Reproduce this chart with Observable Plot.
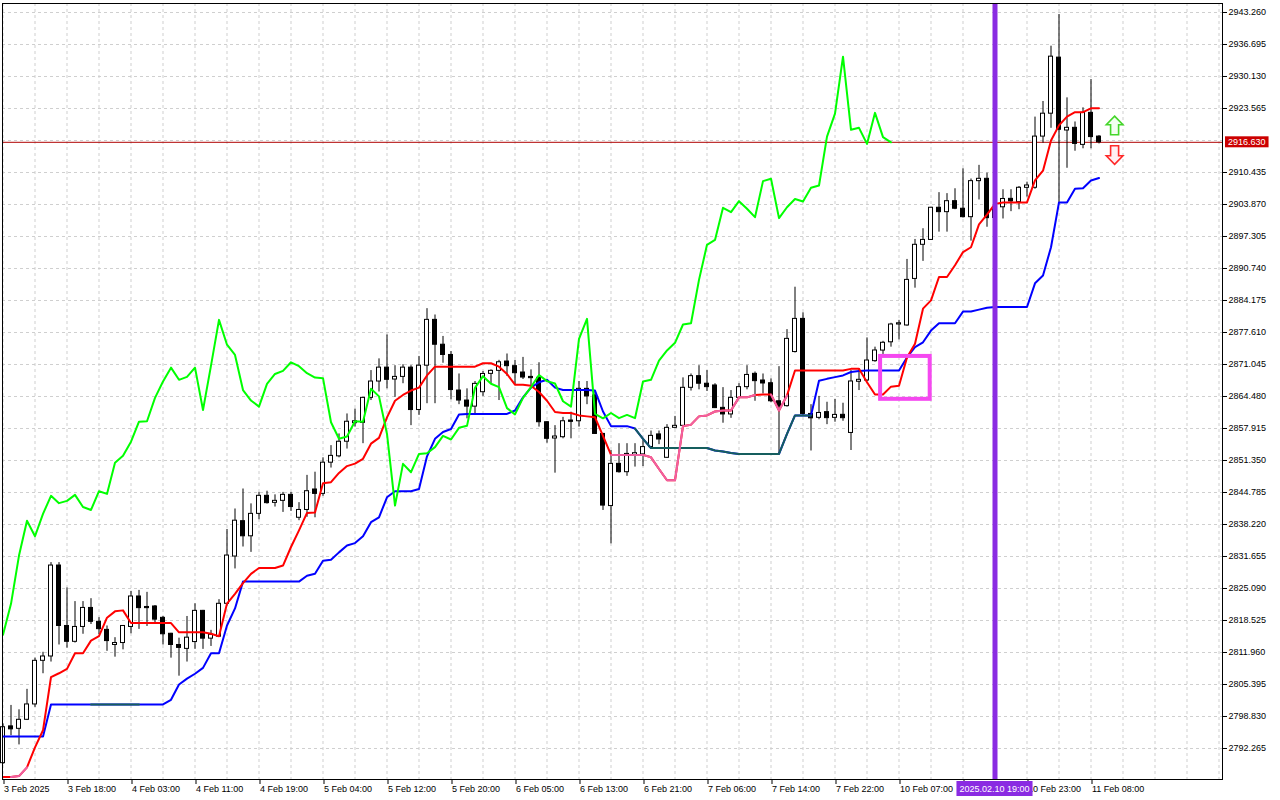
<!DOCTYPE html>
<html><head><meta charset="utf-8">
<script src="https://cdn.jsdelivr.net/npm/d3@7"></script>
<script src="https://cdn.jsdelivr.net/npm/@observablehq/plot@0.6"></script>
<style>html,body{margin:0;padding:0;background:#fff;}svg{display:block}</style>
</head><body><div id="chart"></div>
<script>
// ---- data (H1 bars, index 0 = 3 Feb 2025) ----
const open = [
2789.25,2796.8,2796.3,2798.15,2801.3,2810.25,2811.14,2829.8,2817.4,2814.15,
2817.2,2821.1,2818.25,2816.6,2813.5,2813.9,2817.2,2823.45,2821.3,2821.4,
2819.07,2815.8,2813.5,2812.7,2814.1,2820.5,2814.8,2815.2,2821.95,2831.65,
2838.9,2835.8,2840.4,2844.1,2842.66,2843.07,2844.3,2839.6,2841.2,2845.4,
2844.5,2850.9,2852.2,2855.2,2859.0,2859.07,2864.2,2867.55,2870.4,2867.96,
2868.5,2870.4,2861.7,2870.8,2880.2,2875.1,2873.0,2865.7,2863.65,2862.4,
2865.36,2869.12,2869.74,2871.65,2870.7,2869.4,2868.5,2868.3,2859.2,2855.86,
2856.13,2859.55,2859.4,2866.05,2864.7,2856.8,2842.0,2850.66,2848.95,2852.5,
2852.6,2854.1,2856.7,2851.9,2858.05,2858.46,2866.26,2868.65,2867.1,2866.74,
2862.15,2860.8,2864.2,2866.4,2869.13,2867.76,2867.2,2863.5,2862.5,2873.6,
2880.4,2860.9,2860.1,2861.27,2860.1,2860.72,2857.0,2867.5,2867.76,2871.73,
2873.9,2875.6,2879.25,2879.05,2888.6,2895.6,2896.6,2903.2,2902.3,2904.55,
2903.0,2901.27,2908.66,2909.14,2901.1,2903.3,2905.03,2904.35,2907.29,2907.3,
2917.8,2922.5,2934.0,2919.05,2919.6,2916.1,2922.67,2917.8];
const high = [
2797.3,2801.1,2800.2,2804.4,2810.8,2812.0,2830.4,2830.4,2825.2,2822.4,
2822.4,2823.0,2819.1,2817.4,2815.0,2817.5,2824.5,2824.7,2824.3,2821.6,
2819.35,2815.9,2814.9,2819.35,2821.95,2820.6,2816.5,2822.8,2837.2,2841.4,
2845.5,2842.45,2844.8,2845.05,2844.3,2844.8,2844.8,2842.7,2848.3,2848.95,
2851.9,2854.4,2856.8,2860.9,2861.9,2864.3,2869.8,2872.2,2877.1,2870.8,
2871.0,2870.8,2872.7,2882.5,2881.2,2876.8,2873.7,2869.1,2866.05,2867.55,
2869.6,2869.94,2871.9,2873.2,2871.86,2872.5,2869.94,2871.4,2859.3,2858.5,
2860.2,2861.26,2867.55,2867.55,2865.6,2856.9,2853.4,2854.8,2854.8,2854.8,
2855.45,2857.4,2857.4,2858.7,2860.4,2868.3,2869.1,2870.8,2869.8,2867.1,
2866.3,2865.7,2867.1,2870.8,2869.5,2869.1,2868.1,2870.6,2878.2,2886.9,
2881.65,2862.8,2864.5,2863.3,2863.9,2863.1,2869.8,2870.15,2876.5,2874.6,
2875.8,2879.5,2880.1,2892.6,2896.7,2898.9,2903.3,2906.3,2906.1,2907.1,
2911.2,2909.1,2911.9,2910.3,2904.5,2906.9,2906.9,2907.56,2908.45,2921.8,
2925.0,2936.35,2942.85,2925.75,2920.8,2923.7,2929.5,2918.0];
const low = [
2789.0,2794.9,2793.0,2798.0,2800.7,2807.6,2810.0,2813.5,2812.85,2813.9,
2815.7,2817.7,2815.65,2812.2,2811.0,2812.5,2815.8,2816.7,2817.3,2818.05,
2813.5,2810.8,2807.1,2810.0,2812.6,2812.6,2813.2,2815.1,2821.5,2829.1,
2833.6,2832.5,2839.2,2842.4,2841.8,2840.7,2840.9,2839.0,2839.7,2839.6,
2844.0,2849.8,2851.9,2853.7,2858.2,2854.8,2863.65,2865.4,2866.05,2864.3,
2867.1,2858.5,2860.6,2863.0,2863.0,2871.3,2863.8,2862.8,2859.9,2860.9,
2864.5,2867.07,2863.65,2868.6,2866.7,2867.96,2866.6,2858.2,2854.9,2848.75,
2855.8,2855.8,2858.2,2862.8,2856.7,2841.1,2834.25,2848.75,2848.1,2850.0,
2850.1,2853.7,2854.6,2851.8,2858.0,2858.3,2865.6,2865.85,2865.5,2862.0,
2859.0,2860.0,2864.07,2865.85,2863.5,2865.0,2863.2,2852.7,2862.3,2873.4,
2860.5,2853.3,2859.7,2858.7,2859.2,2859.4,2853.4,2865.7,2867.5,2871.5,
2873.1,2874.6,2876.1,2878.9,2886.7,2892.2,2896.5,2898.2,2898.2,2902.8,
2901.1,2896.35,2904.8,2899.2,2898.5,2900.9,2902.4,2902.8,2905.4,2907.0,
2916.45,2919.5,2904.3,2911.3,2914.8,2915.3,2915.3,2916.3];
const close = [
2796.63,2796.2,2798.15,2801.3,2810.25,2811.14,2829.8,2817.4,2814.15,2817.2,
2821.1,2818.25,2816.75,2814.3,2813.9,2817.4,2823.45,2821.06,2821.06,2818.7,
2815.7,2813.5,2812.9,2815.0,2820.5,2814.8,2815.6,2821.95,2831.85,2839.0,
2835.8,2840.4,2844.1,2842.6,2843.07,2844.3,2841.8,2841.2,2845.05,2844.5,
2850.9,2852.3,2855.2,2859.3,2859.4,2864.2,2867.55,2870.4,2867.9,2868.5,
2870.4,2861.7,2870.8,2880.2,2875.1,2873.0,2865.8,2863.65,2862.4,2867.07,
2869.1,2869.74,2871.5,2870.7,2869.26,2868.37,2868.24,2859.2,2855.8,2856.27,
2859.4,2859.28,2866.05,2864.5,2856.8,2842.1,2850.66,2848.95,2852.7,2852.85,
2854.1,2856.4,2855.66,2858.05,2858.46,2866.26,2868.65,2867.1,2866.4,2862.1,
2860.8,2864.2,2866.4,2868.9,2867.63,2867.15,2863.5,2862.4,2876.3,2880.4,
2860.9,2860.0,2861.1,2860.04,2860.7,2860.03,2867.56,2867.9,2871.86,2873.92,
2875.5,2879.25,2879.5,2888.4,2895.6,2896.6,2903.2,2902.3,2904.55,2903.0,
2901.27,2908.66,2909.14,2901.07,2903.3,2905.0,2904.5,2907.3,2907.77,2917.8,
2922.5,2934.2,2919.2,2919.6,2916.3,2922.67,2917.7,2916.63];
const tenkan = [
2786.4,2786.4,2786.6,2788.4,2792.5,2796.0,2806.9,2807.7,2808.6,2811.8,
2811.8,2814.4,2815.3,2819.1,2820.4,2820.6,2818.0,2818.0,2818.0,2818.0,
2818.0,2818.0,2816.1,2816.1,2816.1,2816.1,2815.8,2815.3,2822.0,2824.0,
2826.2,2828.1,2829.3,2829.3,2829.3,2829.8,2833.6,2837.0,2840.6,2840.7,
2846.7,2846.9,2848.8,2850.2,2850.7,2851.7,2854.8,2856.0,2860.2,2863.6,
2864.8,2865.7,2866.3,2868.8,2870.6,2870.6,2870.6,2870.6,2870.6,2870.6,
2871.3,2871.3,2870.6,2869.1,2866.9,2866.9,2866.7,2865.4,2863.6,2861.3,
2861.1,2861.1,2860.6,2860.4,2860.2,2856.4,2852.5,2852.5,2852.5,2852.5,
2852.5,2852.0,2849.6,2847.3,2847.3,2858.4,2858.7,2860.4,2860.6,2861.4,
2861.6,2861.6,2864.3,2864.3,2864.8,2864.9,2864.9,2861.6,2864.7,2869.8,
2869.8,2869.8,2869.8,2869.8,2869.8,2869.8,2870.15,2870.15,2867.4,2864.9,
2864.9,2866.5,2866.7,2872.5,2875.3,2882.5,2884.2,2889.0,2889.0,2891.4,
2894.1,2895.1,2899.8,2901.8,2904.0,2904.3,2904.3,2904.3,2904.3,2908.8,
2910.8,2917.0,2920.1,2921.9,2922.8,2922.8,2923.6,2923.6];
const kijun = [
2794.7,2794.7,2794.7,2794.7,2794.7,2794.7,2801.3,2801.3,2801.3,2801.3,
2801.3,2801.3,2801.3,2801.3,2801.3,2801.3,2801.3,2801.3,2801.3,2801.3,
2801.3,2802.25,2805.4,2806.6,2807.6,2808.8,2811.8,2811.8,2817.5,2821.0,
2826.5,2826.5,2826.5,2826.5,2826.5,2826.5,2826.5,2826.5,2827.7,2828.1,
2830.8,2831.0,2832.5,2833.9,2834.4,2835.8,2838.7,2839.7,2843.8,2845.05,
2845.05,2845.05,2845.5,2852.2,2855.8,2857.2,2857.8,2860.8,2860.9,2860.9,
2860.9,2860.9,2860.9,2860.9,2861.6,2864.3,2866.3,2867.4,2867.9,2866.3,
2865.8,2865.8,2865.8,2865.8,2865.7,2861.4,2858.4,2858.4,2858.4,2857.9,
2855.8,2853.9,2853.9,2853.9,2853.9,2853.9,2853.9,2853.9,2853.9,2853.4,
2853.2,2852.9,2852.7,2852.7,2852.7,2852.7,2852.7,2852.7,2856.8,2860.6,
2860.6,2860.6,2867.7,2868.1,2868.45,2868.8,2869.5,2869.7,2869.8,2869.8,
2869.8,2869.8,2869.8,2872.5,2874.6,2875.6,2878.0,2879.5,2879.5,2879.5,
2881.9,2881.9,2882.3,2882.7,2882.85,2882.85,2882.85,2882.85,2882.85,2887.7,
2889.3,2895.1,2904.3,2904.3,2907.1,2907.2,2908.8,2909.3];
const chikouShift = 26;                      // chikou span = close plotted 26 bars back
const pinkRuns = [[1,3],[76,94],[96,98]];    // tenkan segments drawn pink
const tealRuns = [[11,17],[79,101]];         // kijun segments drawn teal
const priceTicks = [2792.265,2798.830,2805.395,2811.960,2818.525,2825.090,2831.655,2838.220,
  2844.785,2851.350,2857.915,2864.480,2871.045,2877.610,2884.175,2890.740,2897.305,2903.870,
  2910.435,2917.000,2923.565,2930.130,2936.695,2943.260];
const hiddenPriceTick = 2917.000;            // covered by the current-price tag
const tickBars = [0,8,16,24,32,40,48,56,64,72,80,88,96,104,112,120,128,136];
const timeLabels = ["3 Feb 2025","3 Feb 18:00","4 Feb 03:00","4 Feb 11:00","4 Feb 19:00",
  "5 Feb 04:00","5 Feb 12:00","5 Feb 20:00","6 Feb 05:00","6 Feb 13:00","6 Feb 21:00",
  "7 Feb 06:00","7 Feb 14:00","7 Feb 22:00","10 Feb 07:00","10 Feb 15:00","10 Feb 23:00","11 Feb 08:00"];
const coveredTickBars = [120];               // label hidden under the time-marker tag
const gridBars = d3.range(0, 153, 4);
const currentPrice = 2916.63;
const markerBar = 124;
const markerLabel = "2025.02.10 19:00";
const boxBars = [109.7, 115.9];
const boxPrices = [2863.9, 2872.7];
const arrowBar = 138.95;
const arrowUpPrice = 2920.1;
const arrowDownPrice = 2914.0;

// ---- build ----
const bars = open.map((o, i) => ({i, open:o, high:high[i], low:low[i], close:close[i], tenkan:tenkan[i], kijun:kijun[i]}));
const bull = bars.filter(d => d.close >= d.open);
const bear = bars.filter(d => d.close < d.open);
const chikou = close.slice(chikouShift).map((v, i) => ({i, v}));
const runPts = (runs, key) => runs.flatMap(([a, b], r) => bars.slice(a, b + 1).map(d => ({i:d.i, v:d[key], run:r})));

// hollow block-arrow symbols
function arrowSymbol(dir) {
  return {draw(ctx, size) {
    const k = Math.sqrt(size / Math.PI) / 9;
    const pts = [[0,-9.3],[8.3,-0.7],[4,-0.7],[4,9.3],[-4,9.3],[-4,-0.7],[-8.3,-0.7]];
    pts.forEach(([px, py], j) => { const X = px * k, Y = dir * py * k; j ? ctx.lineTo(X, Y) : ctx.moveTo(X, Y); });
    ctx.closePath();
  }};
}

const W = 1280, H = 800, mL = 2, mR = 58, mT = 3, mB = 21;
const font = "'Liberation Sans', Arial, sans-serif";

const chart = Plot.plot({
  width: W, height: H, marginLeft: mL, marginRight: mR, marginTop: mT, marginBottom: mB,
  style: {fontFamily: font, fontSize: "9px", background: "#fff", color: "#000", overflow: "visible"},
  x: {type: "linear", domain: [-0.0625, 152.4375], label: null},
  y: {type: "linear", domain: [2785.903, 2945.106], label: null},
  marks: [
    Plot.gridX({ticks: gridBars, stroke: "#cfcfcf", strokeOpacity: 1, strokeDasharray: "3,3"}),
    Plot.gridY({ticks: priceTicks, stroke: "#cfcfcf", strokeOpacity: 1, strokeDasharray: "3,3"}),
    Plot.ruleY([currentPrice], {stroke: "#b00000", strokeWidth: 1}),
    Plot.ruleX(bars, {x: "i", y1: "low", y2: "high", stroke: "#000", strokeWidth: 1}),
    Plot.rect(bear, {x1: d => d.i - 0.25, x2: d => d.i + 0.25, y1: "open", y2: "close", fill: "#000", stroke: "#000", strokeWidth: 1}),
    Plot.rect(bull, {x1: d => d.i - 0.25, x2: d => d.i + 0.25, y1: "open", y2: "close", fill: "#fff", stroke: "#000", strokeWidth: 1}),
    Plot.line(bars, {x: "i", y: "kijun", stroke: "#0000ff", strokeWidth: 2}),
    Plot.line(bars, {x: "i", y: "tenkan", stroke: "#ff0000", strokeWidth: 2}),
    Plot.line(runPts(tealRuns, "kijun"), {x: "i", y: "v", z: "run", stroke: "#155e5e", strokeWidth: 2}),
    Plot.line(runPts(pinkRuns, "tenkan"), {x: "i", y: "v", z: "run", stroke: "#f060a2", strokeWidth: 2}),
    Plot.line(chikou, {x: "i", y: "v", stroke: "#00ff00", strokeWidth: 2}),
    Plot.rect([{a: boxBars[0], b: boxBars[1], lo: boxPrices[0], hi: boxPrices[1]}],
      {x1: "a", x2: "b", y1: "lo", y2: "hi", fill: "none", stroke: "#f548f0", strokeWidth: 4}),
    Plot.ruleX([markerBar], {stroke: "#8a2be2", strokeWidth: 5}),
    Plot.dot([{i: arrowBar, v: arrowUpPrice}], {x: "i", y: "v", symbol: arrowSymbol(1), r: 9, fill: "#f2fff0", stroke: "#45d62a", strokeWidth: 1.6}),
    Plot.dot([{i: arrowBar, v: arrowDownPrice}], {x: "i", y: "v", symbol: arrowSymbol(-1), r: 9, fill: "#fff0f4", stroke: "#ff2a2a", strokeWidth: 1.6}),
    Plot.frame({stroke: "#000", strokeWidth: 1}),
    Plot.axisY({anchor: "right", ticks: priceTicks.filter(p => Math.abs(p - hiddenPriceTick) > 0.001), tickFormat: d => d.toFixed(3), tickSize: 4, tickPadding: 2, label: null}),
    Plot.axisX({anchor: "bottom", ticks: tickBars, tickFormat: d => coveredTickBars.includes(d) ? "" : timeLabels[tickBars.indexOf(d)], tickSize: 5, tickPadding: 1, textAnchor: "start", dx: 1, label: null})
  ]
});
document.getElementById("chart").append(chart);

// ---- highlighted tags (positioned through the plot's own scales) ----
const sx = chart.scale("x"), sy = chart.scale("y");
const svg = d3.select(chart);

// current price tag on the price axis
const py = sy.apply(currentPrice);
const tag = svg.append("g");
const tagText = tag.append("text").attr("x", W - mR + 6).attr("y", py).attr("dy", "0.35em")
  .attr("text-anchor", "start").attr("fill", "#fff").text(currentPrice.toFixed(3));
const tb = tagText.node().getBBox();
tag.insert("rect", "text").attr("x", tb.x - 3).attr("y", py - 5.5).attr("width", tb.width + 6).attr("height", 11).attr("fill", "#cc0000");

// time marker tag on the time axis
const mx = sx.apply(markerBar);
const my = H - mB + 9.5;
const mk = svg.append("g");
const mkText = mk.append("text").attr("x", mx).attr("y", my).attr("dy", "0.35em").attr("text-anchor", "middle")
  .attr("fill", "#fff").text(markerLabel);
const mb = mkText.node().getBBox();
mk.insert("rect", "text").attr("x", mb.x - 3).attr("y", my - 7.5).attr("width", mb.width + 6).attr("height", 15).attr("fill", "#8a2be2");
</script>
</body></html>
